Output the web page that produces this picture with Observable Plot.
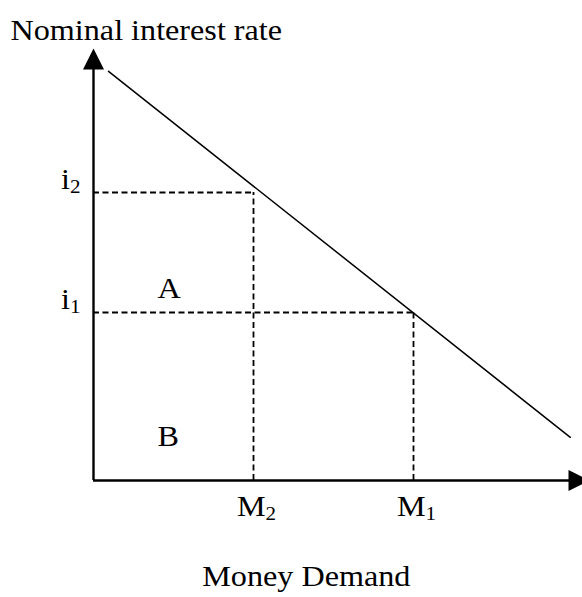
<!DOCTYPE html>
<html>
<head>
<meta charset="utf-8">
<script src="https://cdn.jsdelivr.net/npm/d3@7"></script>
<script src="https://cdn.jsdelivr.net/npm/@observablehq/plot@0.6"></script>
<style>
  html, body { margin: 0; padding: 0; background: #fff; }
</style>
</head>
<body>
<div id="chart"></div>
<script>
// ---- data ----
const quantities = [10, 20];            // M2, M1 on the money axis
const quantityLabels = ["M2", "M1"];
const rates = [24, 14];                 // i2, i1 on the rate axis
const rateLabels = ["i2", "i1"];
const demandX = [0.94, 29.8];           // money demand line endpoints
const demandY = [34.1, 3.6];
const regionLabels = ["A", "B"];
const regionX = [4, 4];
const regionY = [15.2, 2.9];
const yAxisTitle = "Nominal interest rate";
const xAxisTitle = "Money Demand";
const xMax = 30.5625, yMax = 40;

const demand = demandX.map((x, i) => ({x, y: demandY[i]}));
const qPoints = quantities.map((q, i) => ({q, label: quantityLabels[i], r: rates[i]}));
const rPoints = rates.map((r, i) => ({r, label: rateLabels[i], q: quantities[i]}));
const regions = regionLabels.map((t, i) => ({t, x: regionX[i], y: regionY[i]}));

// filled isosceles arrowhead, tip at the anchor, pointing up
const arrowHead = {
  draw(ctx) {
    ctx.moveTo(0, 0);
    ctx.lineTo(10.5, 21);
    ctx.lineTo(-10.5, 21);
    ctx.closePath();
  }
};

const font = "'Liberation Serif', 'Times New Roman', serif";
const fs = 29;

const chart = Plot.plot({
  width: 582,
  height: 597,
  marginLeft: 93,
  marginRight: 0,
  marginTop: 0,
  marginBottom: 117,
  x: {domain: [0, xMax], axis: null},
  y: {domain: [0, yMax], axis: null},
  style: {fontFamily: font, fontSize: fs + "px", background: "white", color: "black", overflow: "visible"},
  marks: [
    // dashed guides
    Plot.ruleY(rPoints, {y: "r", x1: 0, x2: "q", stroke: "black", strokeWidth: 1.8, strokeDasharray: "6,3.5"}),
    Plot.ruleX(qPoints, {x: "q", y1: 0, y2: "r", stroke: "black", strokeWidth: 1.8, strokeDasharray: "6,3.5"}),
    // demand curve
    Plot.line(demand, {x: "x", y: "y", stroke: "black", strokeWidth: 1.5}),
    // axes
    Plot.ruleX([0], {y1: 0, y2: 35, stroke: "black", strokeWidth: 2.4}),
    Plot.ruleY([0], {x1: 0, x2: 30, stroke: "black", strokeWidth: 2.4}),
    Plot.dot([{x: 0, y: 36}], {x: "x", y: "y", r: 10, symbol: arrowHead, fill: "black", stroke: null}),
    Plot.dot([{x: 31, y: 0}], {x: "x", y: "y", r: 10, symbol: arrowHead, fill: "black", stroke: null, rotate: 90}),
    // labels
    Plot.text(rPoints, {x: 0, y: "r", text: "label", textAnchor: "end", lineAnchor: "bottom", dx: -13, dy: -4, fontSize: fs}),
    Plot.text(qPoints, {x: "q", y: 0, text: "label", textAnchor: "middle", lineAnchor: "bottom", dx: 3, dy: 35, fontSize: fs}),
    Plot.text(regions, {x: "x", y: "y", text: "t", textAnchor: "start", lineAnchor: "bottom", fontSize: fs}),
    Plot.text([yAxisTitle], {x: -5.19, y: 36.67, text: d => d, textAnchor: "start", lineAnchor: "bottom", fontSize: fs}),
    Plot.text([xAxisTitle], {x: 13.3, y: -8.75, text: d => d, textAnchor: "middle", lineAnchor: "bottom", fontSize: fs})
  ]
});

// Times-like glyphs in the reference are slightly stretched; add subscripts
d3.select(chart).selectAll("text").each(function () {
  const t = d3.select(this);
  const tr = t.attr("transform") || "";
  t.attr("transform", tr + " scale(1.11,1)");
  const s = t.text();
  const m = /^([A-Za-z])(\d)$/.exec(s);
  if (m) {
    t.text(m[1]);
    t.append("tspan").attr("font-size", "19px").attr("dy", "4").text(m[2]);
  }
});

document.getElementById("chart").appendChild(chart);
</script>
</body>
</html>
